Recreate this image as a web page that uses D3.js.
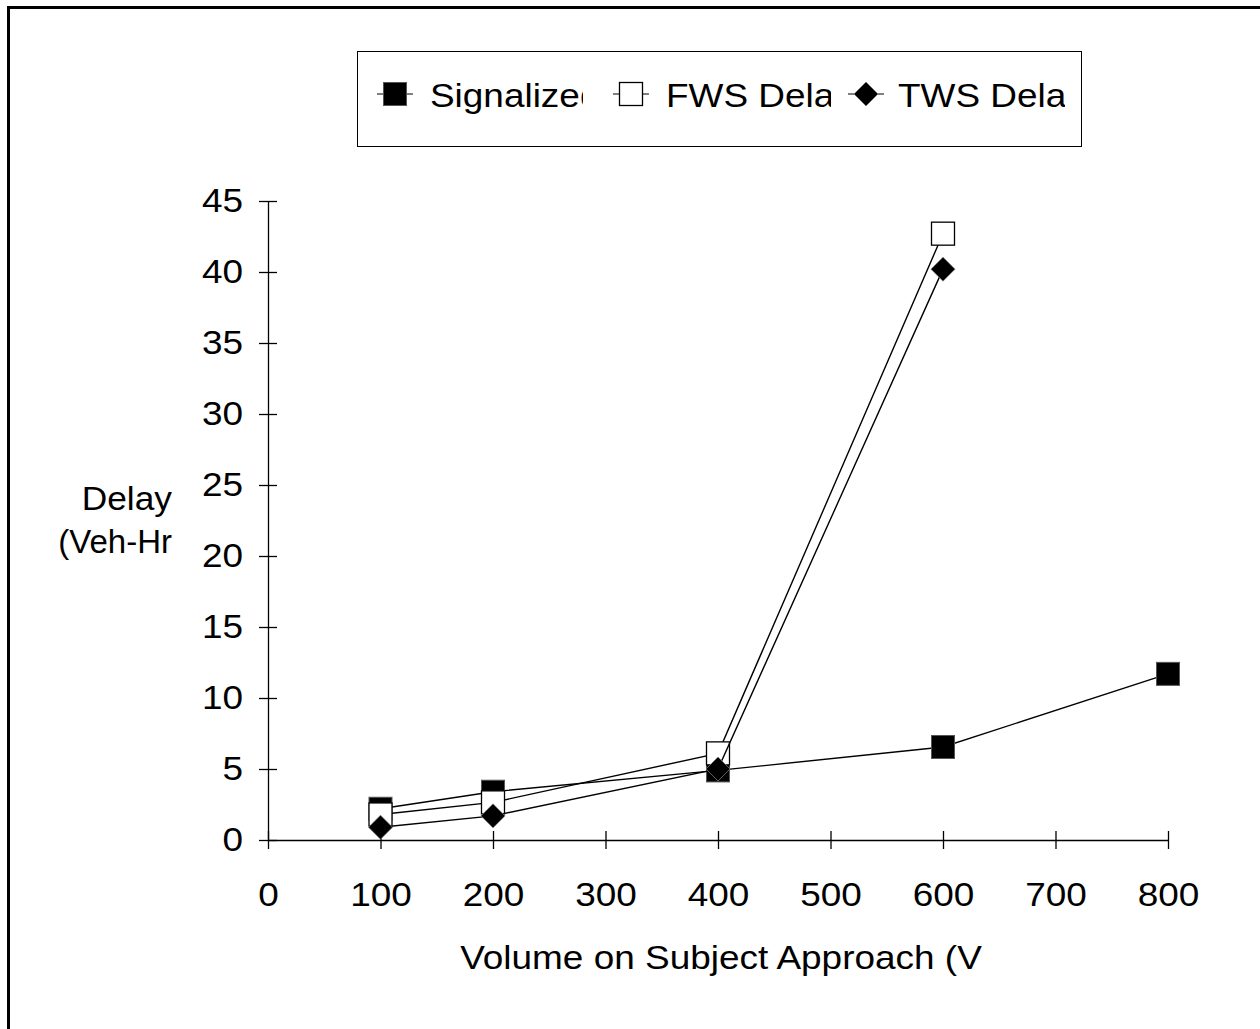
<!DOCTYPE html>
<html>
<head>
<meta charset="utf-8">
<script src="https://cdn.jsdelivr.net/npm/d3@7"></script>
<style>
  html, body { margin: 0; padding: 0; background: #fff; }
  svg { display: block; }
  text { font-family: "Liberation Sans", Arial, sans-serif; fill: #000; }
</style>
</head>
<body>
<script>
// Delay vs. approach volume for three control types
const volumes = [100, 200, 400, 600, 800];
const signalized = [2.2, 3.4, 4.9, 6.55, 11.7];
const fwsVolumes = [100, 200, 400, 600];
const fwsDelay = [1.8, 2.65, 6.1, 42.7];
const twsVolumes = [100, 200, 400, 600];
const twsDelay = [0.9, 1.7, 5.0, 40.2];
const xTicks = [0, 100, 200, 300, 400, 500, 600, 700, 800];
const yTicks = [0, 5, 10, 15, 20, 25, 30, 35, 40, 45];
const legendLabels = ["Signalized", "FWS Delay", "TWS Delay"];

const W = 1260, H = 1029;
const svg = d3.select("body").append("svg").attr("width", W).attr("height", H);
const defs = svg.append("defs");

// outer frame (left and top edges fall inside the page)
svg.append("rect").attr("x", 8.5).attr("y", 7.5).attr("width", W + 20).attr("height", H + 20)
  .attr("fill", "none").attr("stroke", "#000").attr("stroke-width", 3);

const x = d3.scaleLinear().domain([0, 800]).range([268, 1168]);
const y = d3.scaleLinear().domain([0, 45]).range([840, 201]);

const FS = 33;
const STRETCH = 1.12; // glyphs are drawn slightly wide

// widen a text element horizontally about its anchor x
function widen(sel, k = STRETCH) {
  sel.each(function () {
    const ax = +(this.getAttribute("x") || 0);
    d3.select(this).attr("transform", `translate(${ax},0) scale(${k},1) translate(${-ax},0)`);
  });
}

// axes with ticks crossing the axis line
const axisG = svg.append("g");
const xAxis = axisG.append("g").attr("transform", "translate(0,840)")
  .call(d3.axisBottom(x).tickValues(xTicks).tickSizeInner(9).tickSizeOuter(0).tickPadding(34));
xAxis.selectAll(".tick line").attr("y1", -9);
const yAxis = axisG.append("g").attr("transform", "translate(268,0)")
  .call(d3.axisLeft(y).tickValues(yTicks).tickSizeInner(9).tickSizeOuter(0).tickPadding(16));
yAxis.selectAll(".tick line").attr("x1", 9);
axisG.selectAll(".domain").attr("stroke", "#000").attr("stroke-width", 1.3);
axisG.selectAll(".tick line").attr("stroke", "#000").attr("stroke-width", 1.3);
axisG.selectAll(".tick text").attr("font-size", FS).attr("font-family", "Liberation Sans, Arial, sans-serif").attr("fill", "#000");
xAxis.selectAll(".tick text").attr("dy", "0.71em");
widen(axisG.selectAll(".tick text"));

// axis titles
widen(svg.append("text").attr("x", 721).attr("y", 969).attr("text-anchor", "middle")
  .attr("font-size", FS).text("Volume on Subject Approach (V"));
widen(svg.append("text").attr("x", 172).attr("y", 510).attr("text-anchor", "end")
  .attr("font-size", FS).text("Delay"), 1.07);
svg.append("text").attr("x", 172).attr("y", 553).attr("text-anchor", "end")
  .attr("font-size", FS).text("(Veh-Hr");

// series
const line = d3.line().x(d => x(d[0])).y(d => y(d[1]));
const series = [
  { name: legendLabels[0], xs: volumes, ys: signalized, shape: "filledSquare" },
  { name: legendLabels[1], xs: fwsVolumes, ys: fwsDelay, shape: "openSquare" },
  { name: legendLabels[2], xs: twsVolumes, ys: twsDelay, shape: "diamond" }
];

function drawMarker(g, shape, cx, cy) {
  if (shape === "filledSquare") {
    g.append("rect").attr("x", cx - 11.5).attr("y", cy - 11.5).attr("width", 23).attr("height", 23)
      .attr("fill", "#000").attr("stroke", "#555").attr("stroke-width", 1);
  } else if (shape === "openSquare") {
    g.append("rect").attr("x", cx - 11.5).attr("y", cy - 11.5).attr("width", 23).attr("height", 23)
      .attr("fill", "#fff").attr("stroke", "#000").attr("stroke-width", 1.3);
  } else {
    const r = 12;
    g.append("path").attr("d", `M${cx},${cy - r}L${cx + r},${cy}L${cx},${cy + r}L${cx - r},${cy}Z`)
      .attr("fill", "#000").attr("stroke", "#777").attr("stroke-width", 0.8);
  }
}

series.forEach(s => {
  const pts = s.xs.map((v, i) => [v, s.ys[i]]);
  const g = svg.append("g");
  g.append("path").attr("d", line(pts)).attr("fill", "none").attr("stroke", "#000").attr("stroke-width", 1.4);
  pts.forEach(p => drawMarker(g, s.shape, x(p[0]), y(p[1])));
});

// legend: entry labels are cut off at a fixed width
svg.append("rect").attr("x", 357.5).attr("y", 51.5).attr("width", 724).attr("height", 95)
  .attr("fill", "none").attr("stroke", "#000").attr("stroke-width", 1);

const legendItems = [
  { mx: 395, tx: 430, clip: 153 },
  { mx: 631, tx: 666, clip: 165 },
  { mx: 866, tx: 898, clip: 167 }
];
legendItems.forEach((it, i) => {
  const g = svg.append("g");
  g.append("line").attr("x1", it.mx - 18).attr("x2", it.mx + 18).attr("y1", 94).attr("y2", 94)
    .attr("stroke", "#000").attr("stroke-width", 1);
  drawMarker(g, series[i].shape, it.mx, 94);
  const id = "legclip" + i;
  defs.append("clipPath").attr("id", id).append("rect")
    .attr("x", it.tx - 2).attr("y", 60).attr("width", it.clip + 2).attr("height", 70);
  widen(g.append("g").attr("clip-path", `url(#${id})`)
    .append("text").attr("x", it.tx).attr("y", 107).attr("font-size", FS).text(series[i].name));
});
</script>
</body>
</html>
